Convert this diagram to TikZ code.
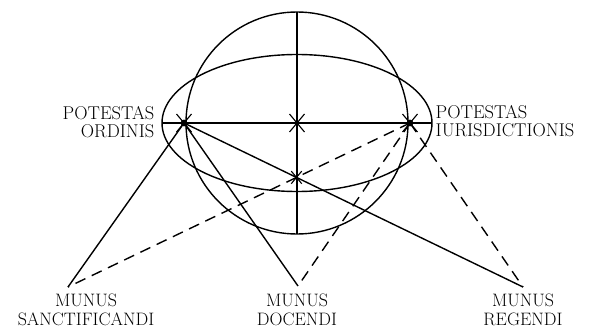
\documentclass[tikz,border=0pt]{standalone}
\usetikzlibrary{calc}

\begin{document}
\begin{tikzpicture}[x=1pt, y=-1pt, line width=1.4pt,
        dashline/.style={dash pattern=on 11pt off 7pt},
        sidelabel/.style={inner sep=0pt, font=\fontsize{18.5}{18}\selectfont},
        munuslabel/.style={inner sep=0pt, align=center, font=\fontsize{18}{19.5}\selectfont},
        starmark/.pic={
            \fill (0,0) circle[radius=#1];
            \draw[line width=1.1pt] (-7.5,-9) -- (7.5,9) (-7.5,9) -- (7.5,-9);
        }]
    \useasboundingbox (0,0) rectangle (597,329);

    % sphere
    \coordinate (centre) at (297,123);
    \draw (centre) circle[radius=111pt];
    \draw (centre) ellipse[x radius=135pt, y radius=68.5pt];
    \draw (162,123) -- (432,123);
    \draw (297,12) -- (297,234);

    % the two powers and the three offices
    \coordinate (ordinis) at (184,123);
    \coordinate (iuris) at (410,123);
    \coordinate (sanct) at (68,287);
    \coordinate (docendi) at (298,286);
    \coordinate (regendi) at (523,287);
    \coordinate (cross) at (intersection of ordinis--regendi and iuris--sanct);

    \draw (ordinis) -- (sanct);
    \draw (ordinis) -- (docendi);
    \draw (ordinis) -- (regendi);
    \draw[dashline] (iuris) -- (sanct);
    \draw[dashline] (iuris) -- (docendi);
    \draw[dashline] (iuris) -- (regendi);

    \pic at (ordinis) {starmark=3.4pt};
    \pic at (iuris) {starmark=3.4pt};
    \pic at (centre) {starmark=2.6pt};
    \pic[scale=0.7] at (cross) {starmark=1.8pt};

    % labels
    \node[sidelabel, align=right, anchor=north east] (ordlabel) at (155,106) {POTESTAS\\ORDINIS};
    \node[sidelabel, align=left, anchor=north west] (iurlabel) at (435,105) {POTESTAS\\IURISDICTIONIS};
    \node[munuslabel, anchor=north] (sanctlabel) at (86,293) {MUNUS\\SANCTIFICANDI};
    \node[munuslabel, anchor=north] (doclabel) at (297,293) {MUNUS\\DOCENDI};
    \node[munuslabel, anchor=north] (reglabel) at (523,293) {MUNUS\\REGENDI};
\end{tikzpicture}
\end{document}
